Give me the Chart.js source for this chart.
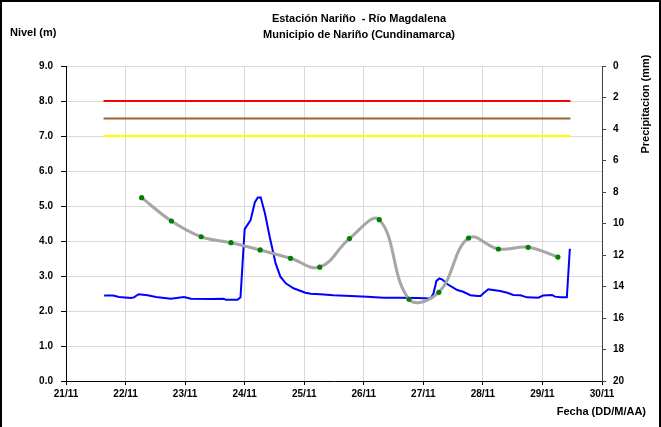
<!DOCTYPE html>
<html>
<head>
<meta charset="utf-8">
<script src="https://cdn.jsdelivr.net/npm/chart.js@4.4.0/dist/chart.umd.min.js"></script>
<style>
  html, body { margin: 0; padding: 0; background: #fff; }
  #wrap { position: relative; width: 661px; height: 427px; }
  #frame { position: absolute; left: 0; top: 0; width: 661px; height: 427px; box-sizing: border-box;
           border: 2px solid #000; border-bottom: none; pointer-events: none; }
</style>
</head>
<body>
<div id="wrap">
  <canvas id="chart" width="661" height="427"></canvas>
  <div id="frame"></div>
</div>
<script>
// textos
const titleLines = ["Estación Nariño  - Río Magdalena", "Municipio de Nariño (Cundinamarca)"];
const levelTitle = "Nivel (m)";
const rainTitle = "Precipitacion (mm)";
const dateTitle = "Fecha (DD/M/AA)";
const month = 11;

// nivel del río (día decimal de noviembre, metros)
const levelDays = [21.64, 21.79, 21.89, 22.09, 22.14, 22.22, 22.37, 22.51, 22.76, 22.98, 23.10, 23.43, 23.65, 23.68, 23.88, 23.93,
  24.00, 24.10, 24.17, 24.22, 24.27, 24.34, 24.42, 24.52, 24.60, 24.69, 24.82, 25.02, 25.11, 25.27, 25.49, 25.78, 26.06, 26.33,
  26.61, 26.90, 27.12, 27.17, 27.22, 27.27, 27.32, 27.40, 27.57, 27.67, 27.79, 27.91, 27.96, 28.02, 28.09, 28.17, 28.29, 28.41,
  28.51, 28.63, 28.74, 28.93, 29.01, 29.08, 29.16, 29.21, 29.30, 29.41, 29.46];
const levelValues = [2.44, 2.44, 2.40, 2.37, 2.39, 2.48, 2.45, 2.40, 2.35, 2.40, 2.35, 2.34, 2.35, 2.32, 2.32, 2.39,
  4.34, 4.60, 5.10, 5.24, 5.24, 4.79, 4.12, 3.36, 2.98, 2.79, 2.65, 2.52, 2.49, 2.48, 2.45, 2.43, 2.41, 2.38,
  2.38, 2.37, 2.36, 2.50, 2.86, 2.93, 2.90, 2.77, 2.60, 2.55, 2.45, 2.43, 2.43, 2.52, 2.62, 2.60, 2.57, 2.52,
  2.46, 2.45, 2.39, 2.38, 2.44, 2.45, 2.46, 2.41, 2.39, 2.39, 3.78];

// precipitación (mm)
const rainDays = [22.27, 22.77, 23.27, 23.77, 24.26, 24.77, 25.26, 25.76, 26.26, 26.76, 27.26, 27.76, 28.26, 28.76, 29.26];
const rainValues = [8.36, 9.84, 10.84, 11.22, 11.68, 12.21, 12.77, 10.96, 9.76, 14.81, 14.37, 10.92, 11.62, 11.51, 12.13];

// niveles de alerta
const alertRange = [21.63, 29.47];
const alertRed = 8.0;
const alertOrange = 7.5;
const alertYellow = 7.0;

const pts = (xs, ys) => xs.map((x, i) => ({ x, y: ys[i] }));
const flat = (v) => alertRange.map(x => ({ x, y: v }));

const FONT = '"Liberation Sans", Arial, sans-serif';

const textPlugin = {
  id: "textos",
  afterDraw(chart) {
    const ctx = chart.ctx;
    ctx.save();
    ctx.fillStyle = "#000";
    ctx.font = "bold 11px " + FONT;
    ctx.textAlign = "center";
    ctx.textBaseline = "middle";
    ctx.fillText(titleLines[0], 359, 19);
    ctx.fillText(titleLines[1], 359, 35);
    ctx.textAlign = "left";
    ctx.fillText(levelTitle, 10, 33);
    ctx.textAlign = "right";
    ctx.fillText(dateTitle, 646, 412);
    ctx.translate(646, 104);
    ctx.rotate(-Math.PI / 2);
    ctx.textAlign = "center";
    ctx.fillText(rainTitle, 0, 0);
    ctx.restore();
  }
};

const tickFont = { family: FONT, size: 10, weight: "bold" };

new Chart(document.getElementById("chart"), {
  type: "line",
  data: {
    datasets: [
      {
        label: "Precipitación",
        data: pts(rainDays, rainValues),
        yAxisID: "y2",
        borderColor: "#a6a6a6",
        borderWidth: 3,
        tension: 0.4,
        pointRadius: 2.6,
        pointBackgroundColor: "#008000",
        pointBorderColor: "#008000",
        pointBorderWidth: 0
      },
      {
        label: "Nivel",
        data: pts(levelDays, levelValues),
        yAxisID: "y",
        borderColor: "#0000ff",
        borderWidth: 2,
        tension: 0,
        pointRadius: 0
      },
      { label: "Rojo", data: flat(alertRed), yAxisID: "y", borderColor: "#ff0000", borderWidth: 2, pointRadius: 0 },
      { label: "Naranja", data: flat(alertOrange), yAxisID: "y", borderColor: "#996633", borderWidth: 2, pointRadius: 0 },
      { label: "Amarillo", data: flat(alertYellow), yAxisID: "y", borderColor: "#ffff00", borderWidth: 2, pointRadius: 0 }
    ]
  },
  options: {
    responsive: false,
    animation: false,
    layout: { padding: { top: 66, left: 0, right: 0, bottom: 0 } },
    plugins: { legend: { display: false }, tooltip: { enabled: false }, title: { display: false } },
    scales: {
      x: {
        type: "linear",
        min: 21,
        max: 30,
        afterFit: s => { s.height = 46; },
        ticks: { stepSize: 1, color: "#000", font: tickFont, padding: 3, maxRotation: 0, callback: v => v + "/" + month },
        grid: { color: "#d9d9d9", lineWidth: 1, tickColor: "#000", tickLength: 4 },
        border: { color: "#000", width: 1 }
      },
      y: {
        position: "left",
        min: 0,
        max: 9,
        afterFit: s => { s.width = 66; },
        ticks: { stepSize: 1, color: "#000", font: tickFont, padding: 8, callback: v => v.toFixed(1) },
        grid: { color: "#d9d9d9", lineWidth: 1, tickColor: "#000", tickLength: 5 },
        border: { color: "#000", width: 1 }
      },
      y2: {
        position: "right",
        min: 0,
        max: 20,
        reverse: true,
        afterFit: s => { s.width = 59; },
        ticks: { stepSize: 2, color: "#000", font: tickFont, padding: 7 },
        grid: { drawOnChartArea: false, tickColor: "#404040", tickLength: 4 },
        border: { color: "#404040", width: 1 }
      }
    }
  },
  plugins: [textPlugin]
});
</script>
</body>
</html>
